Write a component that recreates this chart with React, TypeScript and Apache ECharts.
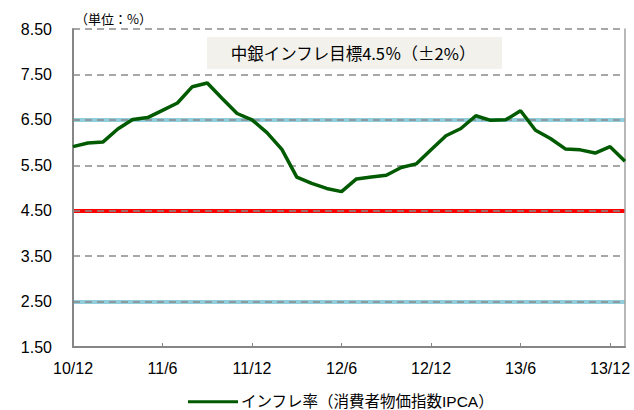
import React, { useEffect, useRef } from "react";
import * as echarts from "echarts";

const months: string[] = [
  "10/12",
  "11/1", "11/2", "11/3", "11/4", "11/5", "11/6", "11/7", "11/8", "11/9", "11/10", "11/11", "11/12",
  "12/1", "12/2", "12/3", "12/4", "12/5", "12/6", "12/7", "12/8", "12/9", "12/10", "12/11", "12/12",
  "13/1", "13/2", "13/3", "13/4", "13/5", "13/6", "13/7", "13/8", "13/9", "13/10", "13/11", "13/12",
  "14/1",
];

const inflation: number[] = [
  5.91,
  5.99, 6.01, 6.30, 6.51, 6.55, 6.71, 6.87, 7.23, 7.31, 6.97, 6.64, 6.50,
  6.22, 5.85, 5.24, 5.10, 4.99, 4.92, 5.20, 5.24, 5.28, 5.45, 5.53, 5.84,
  6.15, 6.31, 6.59, 6.49, 6.50, 6.70, 6.27, 6.09, 5.86, 5.84, 5.77, 5.91,
  5.59,
];

const targetCenter: number[] = [4.5];
const targetBand: number[] = [2.5, 6.5];

const yMin = 1.5;
const yMax = 8.5;
const yStep = 1;

const seriesName = "インフレ率（消費者物価指数IPCA）";
const boxTitle = "中銀インフレ目標4.5％（±2%）";
const unitLabel = "（単位：%）";

const FONT = "'Liberation Sans', 'Noto Sans CJK JP', sans-serif";
const CJK = "'Noto Sans CJK JP', 'Liberation Sans', sans-serif";

export default function App() {
  const ref = useRef<HTMLDivElement>(null);

  useEffect(() => {
    if (!ref.current) return;
    const chart = echarts.init(ref.current, null, { renderer: "svg" });
    chart.setOption({
      animation: false,
      textStyle: { fontFamily: FONT },
      grid: { left: 73, right: 9, top: 29, bottom: 63, containLabel: false },
      legend: {
        left: 183,
        top: 389,
        icon: "rect",
        itemWidth: 50,
        itemHeight: 3,
        itemGap: 10,
        textStyle: { fontSize: 15.5, color: "#000", fontFamily: FONT, padding: [0, 0, 0, -2] },
        data: [seriesName],
      },
      xAxis: {
        type: "category",
        data: months,
        boundaryGap: false,
        z: 2,
        axisLine: { lineStyle: { color: "#868686", width: 2 } },
        axisTick: {
          show: true,
          inside: true,
          length: 4,
          interval: 5,
          lineStyle: { color: "#868686", width: 1 },
        },
        axisLabel: {
          interval: 5,
          margin: 13,
          fontSize: 16,
          color: "#000",
          fontFamily: FONT,
        },
        splitLine: { show: false },
      },
      yAxis: [
        {
          type: "value",
          min: yMin,
          max: yMax,
          interval: yStep,
          z: 2,
          axisLine: { show: true, lineStyle: { color: "#868686", width: 2 } },
          axisTick: { show: false },
          axisLabel: {
            margin: 21,
            fontSize: 16,
            color: "#000",
            fontFamily: FONT,
            formatter: (v: number) => v.toFixed(2),
          },
          splitLine: {
            show: true,
            lineStyle: { color: "#8a8a8a", width: 1.5, type: [7, 5] },
          },
        },
        {
          type: "value",
          position: "right",
          min: yMin,
          max: yMax,
          interval: yStep,
          z: 2,
          axisLine: { show: true, lineStyle: { color: "#a0a0a0", width: 1.5 } },
          axisTick: { show: false },
          axisLabel: { show: false },
          splitLine: { show: false },
        },
      ],
      series: [
        {
          name: "target",
          type: "line",
          data: [],
          z: 1,
          silent: true,
          markLine: {
            silent: true,
            symbol: ["none", "none"],
            label: { show: false },
            z: 1,
            data: [
              ...targetBand.map((v) => ({
                yAxis: v,
                lineStyle: { color: "#92cddc", width: 4, type: "solid" },
              })),
              ...targetCenter.map((v) => ({
                yAxis: v,
                lineStyle: { color: "#ff0000", width: 4, type: "solid" },
              })),
            ],
          },
        },
        {
          name: seriesName,
          type: "line",
          data: inflation,
          z: 3,
          showSymbol: false,
          symbol: "none",
          color: "#005a00",
          lineStyle: { color: "#005a00", width: 3.5 },
        },
      ],
      graphic: [
        {
          type: "rect",
          shape: { x: 207, y: 37, width: 295, height: 32 },
          style: { fill: "#f2f1ec" },
          z: 5,
        },
        {
          type: "text",
          x: 353,
          y: 53,
          z: 6,
          style: {
            text: boxTitle,
            fill: "#000",
            font: `16.5px ${CJK}`,
            textAlign: "center",
            textVerticalAlign: "middle",
          },
        },
        {
          type: "text",
          x: 75,
          y: 18,
          style: {
            text: unitLabel,
            fill: "#000",
            font: `13px ${CJK}`,
            textAlign: "left",
            textVerticalAlign: "middle",
          },
        },
      ],
    });
    return () => chart.dispose();
  }, []);

  return (
    <div
      ref={ref}
      style={{ position: "absolute", left: 0, top: 0, width: 634, height: 410 }}
    />
  );
}
